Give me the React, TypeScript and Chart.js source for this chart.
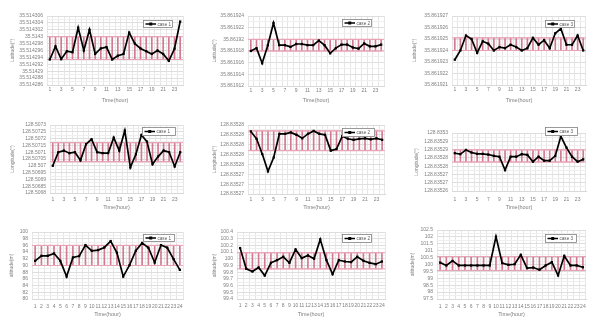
import React, { useEffect, useRef } from "react";
import { Chart, registerables } from "chart.js";
Chart.register(...registerables);

const FONT = '"Liberation Sans", Arial, sans-serif';

const HOURS = ["1","2","3","4","5","6","7","8","9","10","11","12","13","14","15","16","17","18","19","20","21","22","23","24"];
const CASE_NAMES = ["case 1", "case 2", "case 3"];
const Y_TITLES = ["Latitude(°)", "Longitude(°)", "altitude(m)"];
const X_TITLE = "Time(hour)";

// Latitude
const LAT_CASE1 = [35.5142934, 35.5142972, 35.5142935, 35.5142958, 35.5142955, 35.5143026, 35.514296, 35.514302, 35.514295, 35.5142966, 35.514297, 35.5142934, 35.5142945, 35.514295, 35.5143012, 35.514298, 35.5142966, 35.5142958, 35.514295, 35.514296, 35.514295, 35.514293, 35.5142965, 35.5143044];
const LAT_CASE1_TICKS = [35.514306, 35.514304, 35.514302, 35.5143, 35.514298, 35.514296, 35.514294, 35.514292, 35.51429, 35.514288, 35.514286];
const LAT_CASE1_LABELS = ["35.514306","35.514304","35.514302","35.5143","35.514298","35.514296","35.514294","35.514292","35.51429","35.514288","35.514286"];
const LAT_CASE1_BAND = [35.5142934, 35.5143];

const LAT_CASE2 = [35.861918, 35.8619185, 35.8619159, 35.861919, 35.8619228, 35.861919, 35.861919, 35.8619187, 35.8619192, 35.8619192, 35.861919, 35.861919, 35.8619198, 35.861919, 35.8619176, 35.8619185, 35.8619191, 35.8619191, 35.8619186, 35.8619184, 35.8619193, 35.8619188, 35.8619188, 35.8619191];
const LAT_CASE2_TICKS = [35.861924, 35.861922, 35.86192, 35.861918, 35.861916, 35.861914, 35.861912];
const LAT_CASE2_LABELS = ["35.861924","35.861922","35.86192","35.861918","35.861916","35.861914","35.861912"];
const LAT_CASE2_BAND = [35.861918, 35.86192];

const LAT_CASE3 = [35.8619232, 35.861924, 35.8619253, 35.861925, 35.8619238, 35.8619248, 35.8619246, 35.861924, 35.8619243, 35.8619242, 35.8619245, 35.8619243, 35.861924, 35.8619242, 35.8619251, 35.8619245, 35.8619249, 35.8619242, 35.8619255, 35.8619259, 35.8619245, 35.8619245, 35.8619253, 35.861924];
const LAT_CASE3_TICKS = [35.861927, 35.861926, 35.861925, 35.861924, 35.861923, 35.861922, 35.861921];
const LAT_CASE3_LABELS = ["35.861927","35.861926","35.861925","35.861924","35.861923","35.861922","35.861921"];
const LAT_CASE3_BAND = [35.861924, 35.8619251];

// Longitude
const LON_CASE1 = [128.507, 128.5071, 128.507112, 128.507093, 128.5071, 128.50704, 128.507159, 128.507195, 128.5071, 128.507093, 128.507093, 128.507207, 128.507112, 128.507259, 128.506988, 128.507085, 128.507227, 128.507178, 128.507012, 128.507068, 128.507112, 128.5071, 128.506995, 128.5071];
const LON_CASE1_TICKS = [128.5073, 128.50725, 128.5072, 128.50715, 128.5071, 128.50705, 128.507, 128.50695, 128.5069, 128.50685, 128.5068];
const LON_CASE1_LABELS = ["128.5073","128.50725","128.5072","128.50715","128.5071","128.50705","128.507","128.50695","128.5069","128.50685","128.5068"];
const LON_CASE1_BAND = [128.50703, 128.50717];

const LON_CASE2 = [128.8352827, 128.8352812, 128.8352781, 128.8352746, 128.8352774, 128.8352822, 128.8352822, 128.8352825, 128.835282, 128.8352813, 128.8352822, 128.8352828, 128.8352822, 128.835282, 128.8352788, 128.8352791, 128.8352817, 128.8352812, 128.835281, 128.8352812, 128.8352813, 128.8352811, 128.8352813, 128.835281];
const LON_CASE2_TICKS = [128.835284, 128.835282, 128.83528, 128.835278, 128.835276, 128.835274, 128.835272, 128.83527];
const LON_CASE2_LABELS = ["128.83528","128.83528","128.83528","128.83528","128.83528","128.83527","128.83527","128.83527"];
const LON_CASE2_BAND = [128.8352788, 128.8352828];

const LON_CASE3 = [128.8352828, 128.8352822, 128.8352848, 128.8352832, 128.8352824, 128.8352824, 128.835282, 128.8352812, 128.8352807, 128.8352726, 128.8352807, 128.8352807, 128.8352822, 128.8352818, 128.8352777, 128.8352807, 128.8352783, 128.8352783, 128.8352812, 128.835293, 128.8352862, 128.8352807, 128.8352777, 128.8352791];
const LON_CASE3_TICKS = [128.835295, 128.83529, 128.835285, 128.83528, 128.835275, 128.83527, 128.835265, 128.83526];
const LON_CASE3_LABELS = ["128.8353","128.83529","128.83529","128.83528","128.83528","128.83527","128.83527","128.83526"];
const LON_CASE3_BAND = [128.8352775, 128.8352848];

// Altitude
const ALT_CASE1 = [91.4, 92.9, 92.9, 93.6, 91.4, 86.7, 92.4, 92.8, 96.1, 94.4, 94.6, 95.4, 97.3, 93.8, 86.7, 90.1, 94.4, 96.75, 95.3, 90.9, 96.1, 95.3, 91.9, 88.7];
const ALT_CASE1_TICKS = [100, 98, 96, 94, 92, 90, 88, 86, 84, 82, 80];
const ALT_CASE1_LABELS = ["100","98","96","94","92","90","88","86","84","82","80"];
const ALT_CASE1_BAND = [90, 96];

const ALT_CASE2 = [100.16, 99.85, 99.81, 99.87, 99.75, 99.94, 99.98, 100.03, 99.94, 100.14, 100.01, 100.05, 100.0, 100.29, 99.98, 99.77, 99.98, 99.96, 99.95, 100.03, 99.97, 99.94, 99.92, 99.96];
const ALT_CASE2_TICKS = [100.4, 100.3, 100.2, 100.1, 100, 99.9, 99.8, 99.7, 99.6, 99.5, 99.4];
const ALT_CASE2_LABELS = ["100.4","100.3","100.2","100.1","100","99.9","99.8","99.7","99.6","99.5","99.4"];
const ALT_CASE2_BAND = [99.85, 100.09];

const ALT_CASE3 = [100.14, 99.93, 100.26, 99.93, 99.93, 99.93, 99.93, 99.93, 99.93, 102.02, 100.1, 99.98, 100.02, 100.7, 99.74, 99.78, 99.62, 99.93, 100.17, 99.21, 100.62, 99.93, 99.93, 99.8];
const ALT_CASE3_TICKS = [102.5, 102, 101.5, 101, 100.5, 100, 99.5, 99, 98.5, 98, 97.5];
const ALT_CASE3_LABELS = ["102.5","102","101.5","101","100.5","100","99.5","99","98.5","98","97.5"];
const ALT_CASE3_BAND = [99.57, 100.58];

type Panel = { values: number[]; ticks: number[]; labels: string[]; band: number[]; name: string; yTitle: string; allX: boolean };

const PANELS: Panel[] = [
  { values: LAT_CASE1, ticks: LAT_CASE1_TICKS, labels: LAT_CASE1_LABELS, band: LAT_CASE1_BAND, name: CASE_NAMES[0], yTitle: Y_TITLES[0], allX: false },
  { values: LAT_CASE2, ticks: LAT_CASE2_TICKS, labels: LAT_CASE2_LABELS, band: LAT_CASE2_BAND, name: CASE_NAMES[1], yTitle: Y_TITLES[0], allX: false },
  { values: LAT_CASE3, ticks: LAT_CASE3_TICKS, labels: LAT_CASE3_LABELS, band: LAT_CASE3_BAND, name: CASE_NAMES[2], yTitle: Y_TITLES[0], allX: false },
  { values: LON_CASE1, ticks: LON_CASE1_TICKS, labels: LON_CASE1_LABELS, band: LON_CASE1_BAND, name: CASE_NAMES[0], yTitle: Y_TITLES[1], allX: false },
  { values: LON_CASE2, ticks: LON_CASE2_TICKS, labels: LON_CASE2_LABELS, band: LON_CASE2_BAND, name: CASE_NAMES[1], yTitle: Y_TITLES[1], allX: false },
  { values: LON_CASE3, ticks: LON_CASE3_TICKS, labels: LON_CASE3_LABELS, band: LON_CASE3_BAND, name: CASE_NAMES[2], yTitle: Y_TITLES[1], allX: false },
  { values: ALT_CASE1, ticks: ALT_CASE1_TICKS, labels: ALT_CASE1_LABELS, band: ALT_CASE1_BAND, name: CASE_NAMES[0], yTitle: Y_TITLES[2], allX: true },
  { values: ALT_CASE2, ticks: ALT_CASE2_TICKS, labels: ALT_CASE2_LABELS, band: ALT_CASE2_BAND, name: CASE_NAMES[1], yTitle: Y_TITLES[2], allX: true },
  { values: ALT_CASE3, ticks: ALT_CASE3_TICKS, labels: ALT_CASE3_LABELS, band: ALT_CASE3_BAND, name: CASE_NAMES[2], yTitle: Y_TITLES[2], allX: true },
];

// layout (page pixel coordinates)
type Layout = { box: number[]; area: number[]; yTitleX: number; xTickPad: number; xTitleY: number; legend: number[] };
const LAYOUTS: Layout[] = [
  { box: [0, 0, 195, 105], area: [47, 16, 183, 85], yTitleX: 13, xTickPad: 2, xTitleY: 100, legend: [143, 20, 30, 8] },
  { box: [195, 0, 195, 105], area: [248, 16, 384, 86], yTitleX: 215, xTickPad: 1.5, xTitleY: 100, legend: [342, 19, 30, 8] },
  { box: [390, 0, 201, 105], area: [452, 16, 587, 85], yTitleX: 415, xTickPad: 2, xTitleY: 100, legend: [545, 20, 30, 8] },
  { box: [0, 105, 195, 107], area: [50, 125, 183, 193], yTitleX: 13, xTickPad: 4, xTitleY: 207.5, legend: [142, 127, 34, 9] },
  { box: [195, 105, 195, 107], area: [248, 125, 385, 194], yTitleX: 215, xTickPad: 3, xTitleY: 207.5, legend: [342, 128, 33, 9] },
  { box: [390, 105, 201, 107], area: [452, 133, 587, 191], yTitleX: 417, xTickPad: 5.5, xTitleY: 207.5, legend: [545, 127, 33, 9] },
  { box: [0, 212, 195, 107], area: [32, 232, 183, 299], yTitleX: 12, xTickPad: 5, xTitleY: 314, legend: [143, 234, 32, 8] },
  { box: [195, 212, 195, 107], area: [237, 232, 385, 299], yTitleX: 215, xTickPad: 3.5, xTitleY: 314, legend: [342, 234, 30, 9] },
  { box: [390, 212, 201, 107], area: [437, 230, 588, 299], yTitleX: 413, xTickPad: 4.5, xTitleY: 314, legend: [545, 234, 32, 9] },
];

const boxLegend = {
  id: "boxLegend",
  afterDatasetsDraw(chart: any, _args: any, opts: any) {
    if (!opts || !opts.rect) return;
    const { ctx } = chart;
    const [x, y, w, h] = opts.rect;
    const text = chart.data.datasets[0].label;
    ctx.save();
    ctx.fillStyle = "#ffffff";
    ctx.fillRect(x, y, w, h);
    ctx.strokeStyle = "#808080";
    ctx.lineWidth = 0.8;
    ctx.strokeRect(x + 0.5, y + 0.5, w - 1, h - 1);
    const cy = y + h / 2;
    ctx.strokeStyle = "#000";
    ctx.lineWidth = 1.5;
    ctx.beginPath();
    ctx.moveTo(x + 2.5, cy);
    ctx.lineTo(x + 13, cy);
    ctx.stroke();
    ctx.fillStyle = "#000";
    ctx.fillRect(x + 7.75 - 1.5, cy - 1.5, 3, 3);
    ctx.fillStyle = "#595959";
    ctx.font = `4.6px ${FONT}`;
    ctx.textBaseline = "middle";
    ctx.textAlign = "left";
    ctx.fillText(text, x + 14.5, cy + 0.3);
    ctx.restore();
  },
};

function makeChart(canvas: HTMLCanvasElement, p: Panel, l: Layout) {
  const [bx, by, bw, bh] = l.box;
  const [al, at, ar, ab] = l.area;
  const yWidth = al - bx;
  const xHeight = by + bh - ab;
  const lo = p.band[0];
  const hi = p.band[1];
  const step = Math.abs(p.ticks[0] - p.ticks[1]);
  const capR = (ctx: any) => {
    const ca = ctx.chart.chartArea;
    return ca ? (ca.right - ca.left) / 48 : 3;
  };
  const pink = "#e8a3b5";
  return new Chart(canvas, {
    type: "bar",
    data: {
      labels: HOURS,
      datasets: [
        {
          type: "line",
          label: p.name,
          data: p.values,
          borderColor: "#000",
          borderWidth: 1.7,
          pointStyle: "rect",
          pointRadius: 1.6,
          pointBackgroundColor: "#000",
          pointBorderColor: "#000",
          pointBorderWidth: 0,
          tension: 0,
          order: 0,
        } as any,
        {
          type: "line",
          label: "upper",
          data: HOURS.map(() => hi),
          borderColor: pink,
          borderWidth: 1,
          pointStyle: "line",
          pointRadius: capR,
          pointBorderColor: pink,
          pointBorderWidth: 1,
          order: 1,
        } as any,
        {
          type: "line",
          label: "lower",
          data: HOURS.map(() => lo),
          borderColor: pink,
          borderWidth: 1,
          pointStyle: "line",
          pointRadius: capR,
          pointBorderColor: pink,
          pointBorderWidth: 1,
          order: 1,
        } as any,
        {
          type: "bar",
          label: "range",
          data: HOURS.map(() => [lo, hi]),
          backgroundColor: "#d27a91",
          barThickness: 1,
          order: 2,
        } as any,
      ],
    },
    options: {
      responsive: false,
      animation: false,
      events: [],
      layout: { padding: { left: 0, top: at - by, right: bx + bw - ar, bottom: 0 } },
      plugins: {
        legend: { display: false },
        tooltip: { enabled: false },
        boxLegend: { rect: [l.legend[0] - bx, l.legend[1] - by, l.legend[2], l.legend[3]] },
      } as any,
      scales: {
        x: {
          type: "category",
          offset: true,
          grid: { color: "#e6e6e6", lineWidth: 1, offset: true, drawTicks: false },
          border: { display: true, color: "#d9d9d9" },
          ticks: {
            autoSkip: false,
            maxRotation: 0,
            minRotation: 0,
            padding: l.xTickPad,
            color: "#7f7f7f",
            font: { size: 5, family: FONT },
            callback: function (this: any, v: any, i: number) {
              return p.allX || i % 2 === 0 ? this.getLabelForValue(v) : "";
            },
          },
          title: {
            display: true,
            text: X_TITLE,
            color: "#7f7f7f",
            font: { size: 5.5, family: FONT },
            padding: { top: 0, bottom: Math.max(0, by + bh - l.xTitleY - 3.3) },
          },
          afterFit: (s: any) => {
            s.height = xHeight;
          },
        },
        y: {
          type: "linear",
          min: p.ticks[p.ticks.length - 1],
          max: p.ticks[0],
          afterBuildTicks: (s: any) => {
            const asc = [...p.ticks].reverse();
            const out: any[] = [];
            asc.forEach((t, i) => {
              out.push({ value: t });
              if (i < asc.length - 1) out.push({ value: (t + asc[i + 1]) / 2 });
            });
            s.ticks = out;
          },
          grid: {
            color: (ctx: any) => (ctx.index % 2 === 0 ? "#dedede" : "#efefef"),
            lineWidth: 1,
            drawTicks: false,
          },
          border: { display: false },
          ticks: {
            padding: 4,
            color: "#7f7f7f",
            font: { size: 5, family: FONT },
            autoSkip: false,
            callback: (v: any) => {
              const idx = p.ticks.findIndex((t) => Math.abs(t - v) < step * 1e-3);
              return idx >= 0 ? p.labels[idx] : "";
            },
          },
          title: {
            display: true,
            text: p.yTitle,
            color: "#7f7f7f",
            font: { size: 5, family: FONT },
            padding: { top: Math.max(0, l.yTitleX - bx - 3), bottom: 0 },
          },
          afterFit: (s: any) => {
            s.width = yWidth;
          },
        },
      },
    } as any,
    plugins: [boxLegend],
  });
}

export default function App() {
  const refs = useRef<(HTMLCanvasElement | null)[]>([]);
  useEffect(() => {
    const charts = PANELS.map((p, i) => makeChart(refs.current[i] as HTMLCanvasElement, p, LAYOUTS[i]));
    return () => charts.forEach((c) => c.destroy());
  }, []);
  return (
    <div style={{ position: "fixed", left: 0, top: 0, width: 591, height: 319, background: "#fff", overflow: "hidden" }}>
      {LAYOUTS.map((l, i) => (
        <canvas
          key={i}
          ref={(el) => {
            refs.current[i] = el;
          }}
          width={l.box[2]}
          height={l.box[3]}
          style={{ position: "absolute", left: l.box[0], top: l.box[1], width: l.box[2], height: l.box[3] }}
        />
      ))}
    </div>
  );
}
